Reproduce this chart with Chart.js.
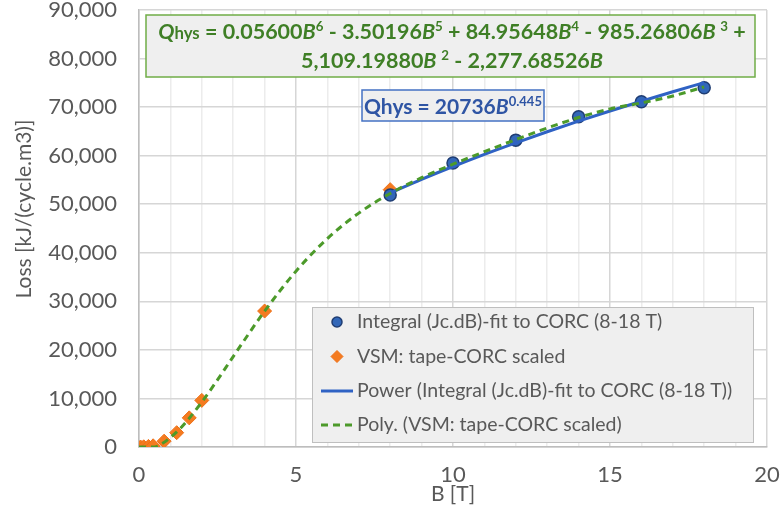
<!DOCTYPE html>
<html>
<head>
<meta charset="utf-8">
<title>Hysteresis loss vs B</title>
<script src="https://cdn.jsdelivr.net/npm/chart.js@4.4.1/dist/chart.umd.min.js"></script>
<style>
  html, body { margin: 0; padding: 0; background: #fff; }
  #wrap { width: 780px; height: 511px; }
</style>
</head>
<body>
<div id="wrap"><canvas id="lossChart" width="780" height="511"></canvas></div>
<script>
// integral of Jc.dB, fitted to CORC (8-18 T)
var integralB = [8, 10, 12, 14, 16, 18];
var integralLoss = [51900, 58500, 63200, 68000, 71100, 74000];

// VSM: tape measurement scaled to CORC
var vsmB = [0.05, 0.15, 0.3, 0.45, 0.8, 1.2, 1.6, 2, 4, 8];
var vsmLoss = [0, 40, 120, 250, 1200, 2950, 6000, 9600, 28000, 53000];

// power trendline, Qhys = 20736 B^0.445
var powerB = [8, 9, 10, 11, 12, 13, 14, 15, 16, 17, 18];
var powerLoss = [52310, 55130, 57770, 60280, 62650, 64930, 67100, 69190, 71210, 73160, 75040];

// 6th order polynomial trendline through the VSM points
var polyB = [0, 0.5, 0.75, 1, 1.25, 1.5, 2, 2.5, 3, 4, 5, 6, 7, 8, 9, 10, 11, 12, 13, 14, 15, 16, 17, 18];
var polyLoss = [0, 20, 780, 1930, 3410, 5160, 9250, 13830, 18620, 27970, 36210, 42930, 48170, 52220, 55460, 58240, 60830, 63320, 65700, 67850, 69620, 70880, 72290, 74180];

var xMin = 0, xMax = 20, xLabelStep = 5;
var yMin = 0, yMax = 90000, yStep = 10000;

var FONT = 'Lato, "Open Sans", sans-serif';
var TEXT_GREY = '#595959';

function pts(xs, ys) {
  return xs.map(function (x, i) { return { x: x, y: ys[i] }; });
}

// draw a line of mixed-style text runs centred on cx
function drawRuns(ctx, runs, cx, y, size, weight, color) {
  var total = 0;
  runs.forEach(function (r) {
    r.size = r.sup ? size * 0.62 : (r.small ? size * 0.78 : size);
    r.font = (r.it ? 'italic ' : '') + weight + ' ' + r.size + 'px ' + FONT;
    ctx.font = r.font;
    r.w = ctx.measureText(r.t).width;
    total += r.w;
  });
  var x = cx - total / 2;
  ctx.fillStyle = color;
  ctx.textAlign = 'left';
  ctx.textBaseline = 'alphabetic';
  runs.forEach(function (r) {
    ctx.font = r.font;
    ctx.fillText(r.t, x, r.sup ? y - size * 0.36 : y);
    x += r.w;
  });
}

var polyLine1 = [
  { t: 'Q', it: true }, { t: 'hys', small: true }, { t: ' = 0.05600' },
  { t: 'B', it: true }, { t: '6', sup: true }, { t: ' - 3.50196' },
  { t: 'B', it: true }, { t: '5', sup: true }, { t: ' + 84.95648' },
  { t: 'B', it: true }, { t: '4', sup: true }, { t: ' - 985.26806' },
  { t: 'B ', it: true }, { t: '3', sup: true }, { t: ' +' }
];
var polyLine2 = [
  { t: '5,109.19880' }, { t: 'B ', it: true }, { t: '2', sup: true },
  { t: ' - 2,277.68526' }, { t: 'B', it: true }
];
var powerEq = [
  { t: 'Qhys = 20736' }, { t: 'B', it: true }, { t: '0.445', sup: true }
];

var overlay = {
  id: 'overlay',
  afterDraw: function (chart) {
    var ctx = chart.ctx;
    var ds = chart.data.datasets;
    ctx.save();

    // axis titles
    ctx.fillStyle = TEXT_GREY;
    ctx.font = '21px ' + FONT;
    ctx.textAlign = 'center';
    ctx.textBaseline = 'middle';
    ctx.fillText('B [T]', 453, 494);
    ctx.save();
    ctx.translate(24, 209);
    ctx.rotate(-Math.PI / 2);
    ctx.fillText('Loss [kJ/(cycle.m3)]', 0, 0);
    ctx.restore();

    // polynomial equation label
    ctx.fillStyle = '#efefef';
    ctx.fillRect(146, 15, 609, 62);
    ctx.strokeStyle = '#70ad47';
    ctx.lineWidth = 1.5;
    ctx.strokeRect(146, 15, 609, 62);
    drawRuns(ctx, polyLine1, 452, 39, 21.5, 'bold', '#3f7f26');
    drawRuns(ctx, polyLine2, 452, 68, 21.5, 'bold', '#3f7f26');

    // power equation label
    ctx.fillStyle = '#efefef';
    ctx.fillRect(362, 90, 182, 31);
    ctx.strokeStyle = '#4472c4';
    ctx.lineWidth = 1.5;
    ctx.strokeRect(362, 90, 182, 31);
    drawRuns(ctx, powerEq, 453, 114, 21, 'bold', '#2f55a4');

    // legend box
    ctx.fillStyle = '#efefef';
    ctx.fillRect(312, 307, 441, 135);
    ctx.strokeStyle = '#bfbfbf';
    ctx.lineWidth = 1;
    ctx.strokeRect(312.5, 307.5, 441, 135);

    var rows = [322, 356.5, 391, 425];
    ctx.textAlign = 'left';
    ctx.textBaseline = 'middle';
    ds.forEach(function (d, i) {
      var y = rows[i];
      if (d.showLine) {
        ctx.save();
        ctx.strokeStyle = d.borderColor;
        ctx.lineWidth = d.borderWidth;
        ctx.setLineDash(d.borderDash || []);
        ctx.beginPath();
        ctx.moveTo(321, y);
        ctx.lineTo(353, y);
        ctx.stroke();
        ctx.restore();
      } else {
        ctx.fillStyle = d.backgroundColor;
        ctx.strokeStyle = d.borderColor;
        ctx.lineWidth = d.borderWidth;
        Chart.helpers.drawPoint(ctx, {
          pointStyle: d.pointStyle,
          radius: d.pointRadius - 1,
          borderWidth: d.borderWidth
        }, 337, y);
      }
      ctx.fillStyle = TEXT_GREY;
      ctx.font = '19.5px ' + FONT;
      ctx.fillText(d.label, 357, y);
    });

    ctx.restore();
  }
};

new Chart(document.getElementById('lossChart'), {
  type: 'scatter',
  data: {
    datasets: [
      {
        label: 'Integral (Jc.dB)-fit to CORC (8-18 T)',
        data: pts(integralB, integralLoss),
        pointStyle: 'circle',
        pointRadius: 6,
        backgroundColor: '#3267b8',
        borderColor: '#1f3d73',
        borderWidth: 1.5,
        order: 3
      },
      {
        label: 'VSM: tape-CORC scaled',
        data: pts(vsmB, vsmLoss),
        pointStyle: 'rectRot',
        pointRadius: 7,
        backgroundColor: '#f47b20',
        borderColor: '#ee7018',
        borderWidth: 1,
        order: 4
      },
      {
        label: 'Power (Integral (Jc.dB)-fit to CORC (8-18 T))',
        data: pts(powerB, powerLoss),
        showLine: true,
        pointRadius: 0,
        borderColor: '#2f62c4',
        borderWidth: 3,
        cubicInterpolationMode: 'monotone',
        order: 2
      },
      {
        label: 'Poly. (VSM: tape-CORC scaled)',
        data: pts(polyB, polyLoss),
        showLine: true,
        pointRadius: 0,
        borderColor: '#4c9a2a',
        borderWidth: 3,
        borderDash: [7, 5],
        cubicInterpolationMode: 'monotone',
        order: 1
      }
    ]
  },
  options: {
    responsive: false,
    animation: false,
    layout: { padding: { top: 10, right: 13, left: 0, bottom: 0 } },
    plugins: {
      legend: { display: false },
      tooltip: { enabled: false }
    },
    scales: {
      x: {
        type: 'linear',
        min: xMin,
        max: xMax,
        // fixed axis band, labels may overhang the plot edges
        afterFit: function (s) { s.height = 64; s.paddingLeft = 0; s.paddingRight = 0; },
        ticks: {
          stepSize: 1,
          autoSkip: false,
          maxRotation: 0,
          padding: 15,
          color: TEXT_GREY,
          font: { family: FONT, size: 22 },
          callback: function (v) { return v % xLabelStep === 0 ? v : ''; }
        },
        grid: {
          drawTicks: false,
          color: function (c) {
            return c.tick && c.tick.value % xLabelStep === 0 ? '#d6d6d6' : '#ececec';
          },
          lineWidth: 1.5
        },
        border: { color: '#bdbdbd', width: 1.5 }
      },
      y: {
        min: yMin,
        max: yMax,
        afterFit: function (s) { s.width = 139; s.paddingTop = 0; s.paddingBottom = 0; },
        ticks: {
          stepSize: yStep,
          padding: 22,
          color: TEXT_GREY,
          font: { family: FONT, size: 22 },
          callback: function (v) { return v.toLocaleString('en-US'); }
        },
        grid: { drawTicks: false, color: '#d6d6d6', lineWidth: 1.5 },
        border: { color: '#bdbdbd', width: 1.5 }
      }
    }
  },
  plugins: [overlay]
});
</script>
</body>
</html>
